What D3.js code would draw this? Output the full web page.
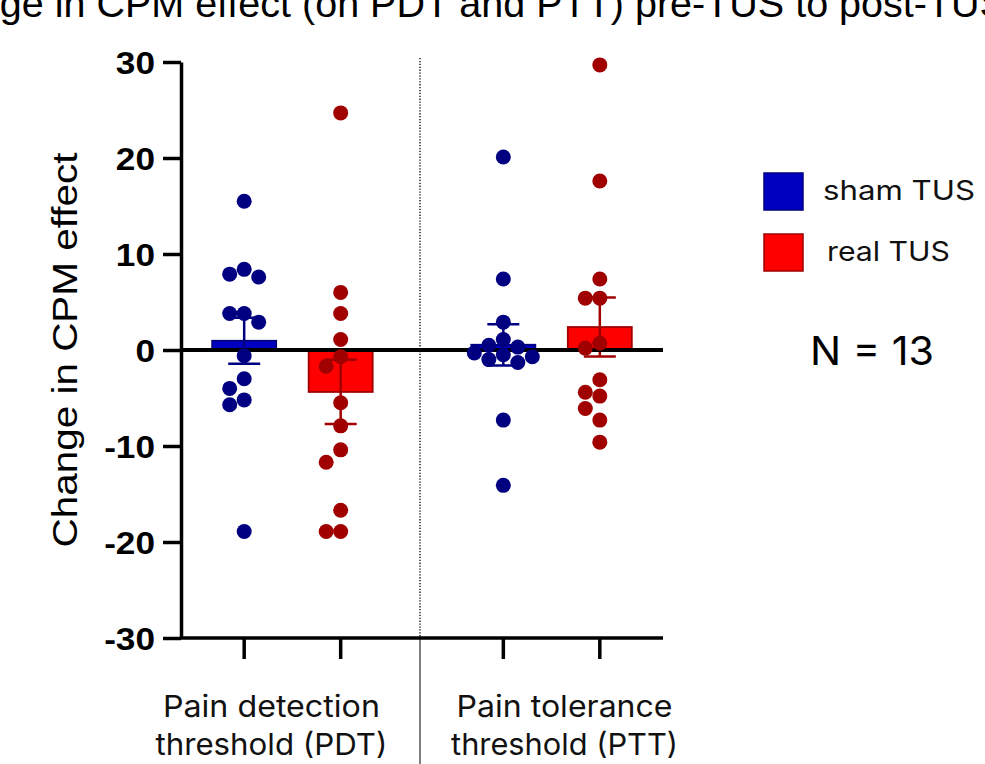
<!DOCTYPE html>
<meta charset="utf-8">
<style>
body { margin: 0; background: #fff; }
svg { display: block; }
.ytick text { font: bold 32px "Liberation Sans", Arial, sans-serif; fill: #000; }
.lab { font-family: Inter, "Noto Sans", sans-serif; fill: #111; }
</style>
<svg width="985" height="764"></svg>
<script src="https://cdn.jsdelivr.net/npm/d3@7"></script>
<script>

// values (change in CPM effect, one dot per subject)
var groups = ["sham TUS", "real TUS"];
var measures = ["PDT", "PTT"];
var measureLabels = [["Pain detection", "threshold (PDT)"], ["Pain tolerance", "threshold (PTT)"]];

var pdtSham = [15.5, 8.4, 7.6, 7.9, 3.8, 3.8, 2.9, -0.6, -3.0, -4.0, -5.2, -5.7, -18.9];
var pdtReal = [24.7, 6.0, 3.8, 1.1, -0.7, -1.7, -5.5, -7.9, -10.4, -11.7, -16.7, -18.9, -18.9];
var pttSham = [20.1, 7.4, 2.9, 1.1, 0.5, 0.3, -0.3, -0.5, -0.7, -1.0, -1.3, -7.3, -14.1];
var pttReal = [29.7, 17.6, 7.4, 5.4, 5.4, 0.7, 0.2, -3.1, -4.4, -4.8, -6.1, -7.3, -9.6];

var yTicks = [-30, -20, -10, 0, 10, 20, 30];
var title = "Change in CPM effect (on PDT and PTT) pre-TUS to post-TUS";
var yTitle = "Change in CPM effect";
var sampleNote = "N = 13";

var series = [
  {m: "PDT", g: "sham TUS", v: pdtSham},
  {m: "PDT", g: "real TUS", v: pdtReal},
  {m: "PTT", g: "sham TUS", v: pttSham},
  {m: "PTT", g: "real TUS", v: pttReal}
];

var colors = {
  "sham TUS": {fill: "#0000c0", edge: "#000080", dot: "#000080"},
  "real TUS": {fill: "#ff0000", edge: "#a00000", dot: "#a00000"}
};

var svg = d3.select("svg");

var y = d3.scaleLinear().domain([-30, 30]).range([638, 62]);
var x0 = d3.scaleBand().domain(measures).range([181, 663]).paddingInner(0.3).paddingOuter(0.08);
var x1 = d3.scalePoint().domain(groups).range([0, x0.bandwidth()]).padding(0.44);
function cx(d) { return x0(d.m) + x1(d.g); }

var barW = 64, capW = 32, r = 7.5;

// title, cut off at the top of the frame
var t = svg.append("text")
    .attr("y", 17)
    .style("font", '39.5px "Liberation Sans", Arial, sans-serif')
    .text(title);
var p0 = t.node().getStartPositionOfChar(title.indexOf("(")).x;
t.attr("x", 302 - p0);

// separator between the two measures
var sepX = (x0("PDT") + x0.bandwidth() + x0("PTT")) / 2 - 2;
svg.append("line")
    .attr("x1", sepX).attr("x2", sepX)
    .attr("y1", y(30) - 4).attr("y2", y(-30))
    .attr("stroke", "#000").attr("stroke-width", 1.3).attr("stroke-dasharray", "1.3,1.6");
svg.append("line")
    .attr("x1", sepX).attr("x2", sepX)
    .attr("y1", y(-30)).attr("y2", 764)
    .attr("stroke", "#555").attr("stroke-width", 1.5);

// bars: mean
series.forEach(function(s) {
  s.mean = d3.mean(s.v);
  s.sem = d3.deviation(s.v) / Math.sqrt(s.v.length);
});

svg.selectAll(".bar")
  .data(series)
  .enter().append("rect")
    .attr("class", "bar")
    .attr("x", function(d) { return cx(d) - barW / 2; })
    .attr("width", barW)
    .attr("y", function(d) { return y(Math.max(0, d.mean)); })
    .attr("height", function(d) { return Math.abs(y(d.mean) - y(0)); })
    .attr("fill", function(d) { return colors[d.g].fill; })
    .attr("stroke", function(d) { return colors[d.g].edge; })
    .attr("stroke-width", 1.8);

// error bars: mean +/- SEM
var eb = svg.selectAll(".err")
  .data(series)
  .enter().append("g")
    .attr("class", "err")
    .attr("stroke", function(d) { return colors[d.g].edge; })
    .attr("stroke-width", 2.5);
eb.append("line")
    .attr("x1", cx).attr("x2", cx)
    .attr("y1", function(d) { return y(d.mean - d.sem); })
    .attr("y2", function(d) { return y(d.mean + d.sem); });
eb.selectAll(".cap")
  .data(function(d) { return [d.mean - d.sem, d.mean + d.sem].map(function(v) { return {c: cx(d), v: v}; }); })
  .enter().append("line")
    .attr("x1", function(d) { return d.c - capW / 2; })
    .attr("x2", function(d) { return d.c + capW / 2; })
    .attr("y1", function(d) { return y(d.v); })
    .attr("y2", function(d) { return y(d.v); });

// zero line
svg.append("line")
    .attr("x1", 181).attr("x2", 663)
    .attr("y1", y(0)).attr("y2", y(0))
    .attr("stroke", "#000").attr("stroke-width", 4);

// simple swarm so dots with close values sit side by side
function swarm(vals) {
  var step = 14.5, placed = [];
  vals.map(function(v, i) { return {v: v, i: i}; })
    .sort(function(a, b) { return b.v - a.v; })
    .forEach(function(p) {
      var py = y(p.v);
      for (var k = 0; k < 20; k++) {
        var off = (k % 2 ? -1 : 1) * Math.ceil(k / 2) * step;
        var hit = placed.some(function(q) {
          return Math.hypot(q.off - off, q.py - py) < 2 * r - 1;
        });
        if (!hit) break;
      }
      placed.push({v: p.v, py: py, off: off});
    });
  return placed;
}

series.forEach(function(s) {
  svg.append("g")
    .selectAll("circle")
    .data(swarm(s.v))
    .enter().append("circle")
      .attr("cx", function(d) { return cx(s) + d.off; })
      .attr("cy", function(d) { return d.py; })
      .attr("r", r)
      .attr("fill", colors[s.g].dot);
});

// y axis
var yAxis = svg.append("g")
    .attr("class", "ytick")
    .attr("transform", "translate(181,0)")
    .call(d3.axisLeft(y).tickValues(yTicks).tickFormat(function(d) { return String(d); })
      .tickSize(18).tickSizeOuter(0).tickPadding(8));
yAxis.select(".domain").attr("stroke", "#000").attr("stroke-width", 3.5);
yAxis.selectAll(".tick line").attr("stroke", "#000").attr("stroke-width", 3.5);
yAxis.selectAll(".tick text").attr("dy", "0.36em").each(function() {
  this.setAttribute("textLength", this.getComputedTextLength() * 1.1);
  this.setAttribute("lengthAdjust", "spacingAndGlyphs");
});

// x axis
svg.append("line")
    .attr("x1", 181).attr("x2", 663)
    .attr("y1", y(-30)).attr("y2", y(-30))
    .attr("stroke", "#000").attr("stroke-width", 3.5);
svg.selectAll(".xtick")
  .data(series)
  .enter().append("line")
    .attr("class", "xtick")
    .attr("x1", cx).attr("x2", cx)
    .attr("y1", y(-30)).attr("y2", y(-30) + 21)
    .attr("stroke", "#000").attr("stroke-width", 3.5);

// y title
svg.append("text")
    .attr("transform", "translate(77," + y(0) + ") rotate(-90)")
    .attr("text-anchor", "middle")
    .attr("textLength", 395)
    .attr("lengthAdjust", "spacingAndGlyphs")
    .style("font", '35px "Liberation Sans", Arial, sans-serif')
    .text(yTitle);

// category labels
var catWidths = [[217, 232], [216, 227]];
var catShift = [-21, 13];
measures.forEach(function(m, i) {
  measureLabels[i].forEach(function(line, j) {
    svg.append("text")
        .attr("class", "lab")
        .attr("x", x0(m) + x0.bandwidth() / 2 + catShift[i])
        .attr("y", 717 + j * 38)
        .attr("text-anchor", "middle")
        .attr("textLength", catWidths[i][j])
        .attr("lengthAdjust", "spacingAndGlyphs")
        .style("font-size", "30px")
        .text(line);
  });
});

// legend
var legend = svg.selectAll(".legend")
  .data(groups)
  .enter().append("g")
    .attr("class", "legend")
    .attr("transform", function(d, i) { return "translate(764," + (173 + i * 61) + ")"; });
legend.append("rect")
    .attr("width", 39).attr("height", 37)
    .attr("fill", function(d) { return colors[d].fill; })
    .attr("stroke", function(d) { return colors[d].edge; })
    .attr("stroke-width", 1.5);
legend.append("text")
    .attr("class", "lab")
    .attr("x", function(d, i) { return i ? 63 : 59; })
    .attr("y", 27)
    .attr("textLength", function(d, i) { return i ? 123 : 152; })
    .attr("lengthAdjust", "spacingAndGlyphs")
    .style("font-size", "27px")
    .text(function(d) { return d; });

svg.append("text")
    .attr("class", "lab")
    .attr("x", 810).attr("y", 365)
    .attr("textLength", 124)
    .attr("lengthAdjust", "spacingAndGlyphs")
    .style("font-size", "40px")
    .style("fill", "#000")
    .text(sampleNote);

</script>
